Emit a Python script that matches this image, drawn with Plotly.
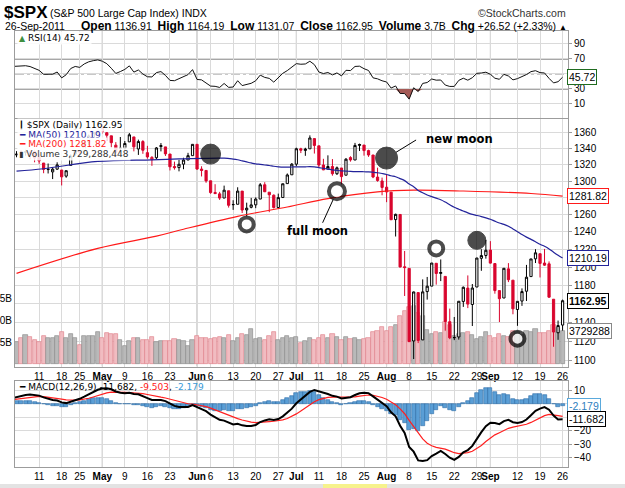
import numpy as np
import pandas as pd
import plotly.graph_objects as go

# ---------------- data ----------------
holidays = ['2011-04-22', '2011-05-30', '2011-07-04', '2011-09-05']
dates = [d.strftime('%Y-%m-%d') for d in pd.bdate_range('2011-04-01', '2011-09-26')]
dates = [d for d in dates if d not in holidays]

opens = [1329.5, 1332.0, 1332.0, 1335.9, 1334.8, 1336.2, 1329.0, 1321.96, 1314.0, 1311.1, 1314.5, 1313.4, 1306.0, 1319.1, 1333.2, 1337.1, 1336.8, 1348.4, 1353.9, 1360.1,
         1365.2, 1359.8, 1355.9, 1344.2, 1340.2, 1340.2, 1348.3, 1354.5, 1339.4, 1348.7, 1334.8, 1326.1, 1328.5, 1342.4, 1342.0, 1333.1, 1317.7, 1316.4, 1320.6, 1325.7, 1331.1,
         1345.2, 1314.6, 1312.9, 1300.3, 1286.3, 1284.6, 1279.6, 1288.3, 1272.0, 1272.2, 1287.9, 1265.5, 1268.6, 1271.5, 1278.4, 1295.5, 1286.6, 1283.0, 1268.4, 1280.2, 1296.9, 1307.6,
         1320.6, 1339.6, 1337.6, 1339.6, 1352.4, 1343.3, 1319.6, 1314.5, 1317.7, 1308.9, 1315.9, 1307.1, 1328.7, 1325.7, 1343.8, 1344.3, 1337.4, 1331.9, 1304.8, 1300.1,
         1292.6, 1286.6, 1254.2, 1260.2, 1200.3, 1198.5, 1120.2, 1171.8, 1121.3, 1172.9, 1178.9, 1204.2, 1192.9, 1189.6, 1140.5, 1123.6, 1124.4, 1162.2, 1176.7, 1158.9, 1177.9, 1209.8, 1213.0,
         1219.1, 1203.9, 1173.97, 1165.9, 1197.98, 1185.4, 1153.5, 1162.6, 1173.3, 1189.4, 1209.2, 1214.99, 1204.5, 1203.6, 1164.6, 1128.8, 1136.91]
highs = [1337.9, 1336.7, 1338.2, 1339.5, 1338.8, 1339.5, 1333.2, 1321.96, 1321.4, 1316.8, 1322.9, 1313.4, 1312.7, 1332.7, 1337.5, 1337.6, 1349.6, 1357.5, 1361.7, 1364.6,
         1370.6, 1360.8, 1355.9, 1348.0, 1354.4, 1349.4, 1359.4, 1354.5, 1351.1, 1350.5, 1343.3, 1330.4, 1341.8, 1346.8, 1342.0, 1333.1, 1323.7, 1325.9, 1328.5, 1334.6, 1345.2,
         1345.2, 1318.0, 1312.9, 1300.3, 1296.2, 1287.0, 1294.5, 1288.3, 1277.0, 1292.5, 1287.9, 1274.1, 1279.8, 1280.4, 1297.6, 1298.6, 1286.6, 1283.9, 1284.9, 1296.8, 1309.2, 1321.97,
         1341.0, 1340.9, 1340.9, 1356.5, 1352.4, 1343.3, 1327.2, 1331.5, 1326.9, 1317.7, 1315.9, 1328.1, 1330.4, 1347.0, 1346.1, 1344.3, 1338.5, 1331.9, 1316.3, 1304.2,
         1307.4, 1286.6, 1261.2, 1260.2, 1218.1, 1198.5, 1172.9, 1171.8, 1186.3, 1189.0, 1204.5, 1204.2, 1208.5, 1189.6, 1154.5, 1145.5, 1162.4, 1178.5, 1190.7, 1181.2, 1210.3, 1220.1, 1230.7,
         1229.3, 1203.9, 1173.97, 1198.6, 1204.4, 1185.4, 1162.5, 1176.4, 1202.4, 1209.1, 1220.1, 1214.99, 1220.4, 1206.3, 1164.6, 1141.7, 1164.19]
lows = [1328.9, 1329.1, 1330.0, 1331.1, 1326.6, 1322.9, 1321.1, 1309.5, 1309.2, 1302.4, 1313.7, 1294.7, 1304.0, 1319.1, 1331.0, 1332.9, 1336.8, 1344.3, 1353.6, 1358.7,
        1358.6, 1349.5, 1341.5, 1329.2, 1335.6, 1338.6, 1348.3, 1336.4, 1332.0, 1333.4, 1327.3, 1318.5, 1326.6, 1336.4, 1330.7, 1312.9, 1313.9, 1311.8, 1314.4, 1325.7, 1331.1,
        1313.7, 1305.6, 1297.9, 1284.7, 1284.7, 1277.4, 1279.6, 1268.3, 1265.6, 1272.2, 1261.9, 1258.1, 1267.4, 1267.6, 1278.4, 1286.8, 1262.9, 1267.2, 1267.5, 1280.2, 1296.9, 1307.6,
        1318.2, 1334.3, 1330.9, 1339.6, 1333.7, 1316.4, 1313.3, 1314.5, 1306.5, 1307.4, 1295.9, 1307.1, 1323.7, 1325.7, 1336.9, 1331.1, 1329.6, 1303.5, 1299.2, 1282.9,
        1274.7, 1254.0, 1234.6, 1199.5, 1168.1, 1119.3, 1101.5, 1118.0, 1121.3, 1164.2, 1178.9, 1180.5, 1184.4, 1131.0, 1122.1, 1121.1, 1121.6, 1156.3, 1155.0, 1135.9, 1177.9, 1195.8, 1209.4,
        1203.9, 1170.6, 1140.1, 1165.9, 1183.3, 1148.4, 1136.1, 1157.4, 1162.7, 1189.4, 1204.5, 1188.4, 1201.3, 1166.2, 1114.2, 1121.4, 1131.07]
closes = [1332.4, 1332.9, 1332.6, 1335.5, 1333.5, 1328.2, 1324.5, 1314.2, 1314.4, 1314.5, 1319.7, 1305.1, 1312.6, 1330.4, 1337.4, 1335.3, 1347.2, 1355.7, 1360.5, 1363.6,
          1361.2, 1356.6, 1347.3, 1335.1, 1340.2, 1346.3, 1357.2, 1342.1, 1348.7, 1337.8, 1329.5, 1329.0, 1340.7, 1343.6, 1333.3, 1317.4, 1316.3, 1320.5, 1325.7, 1331.1, 1345.2,
          1314.6, 1312.9, 1300.2, 1286.1, 1284.9, 1279.6, 1289.0, 1271.0, 1271.8, 1287.9, 1265.4, 1267.6, 1271.5, 1278.4, 1295.5, 1287.1, 1283.5, 1268.4, 1280.1, 1296.7, 1307.4, 1320.6,
          1339.7, 1337.9, 1339.2, 1353.2, 1343.8, 1319.5, 1313.6, 1317.7, 1308.9, 1316.1, 1305.4, 1326.7, 1325.8, 1343.8, 1345.0, 1337.4, 1331.9, 1304.9, 1300.7, 1292.3,
          1286.9, 1254.0, 1260.3, 1200.1, 1199.4, 1119.5, 1172.5, 1120.8, 1172.6, 1178.8, 1204.5, 1192.8, 1193.9, 1140.7, 1123.5, 1123.8, 1162.4, 1177.6, 1159.3, 1176.8, 1210.1, 1212.9, 1218.9,
          1204.4, 1174.0, 1165.2, 1198.6, 1185.9, 1154.2, 1162.3, 1172.9, 1188.7, 1209.1, 1216.0, 1204.1, 1202.1, 1166.8, 1129.6, 1136.4, 1162.95]
volume_bn = [3.0, 2.5, 3.0, 3.3, 3.1, 2.7, 2.5, 3.2, 2.9, 3.0, 3.2, 3.6, 3.0, 3.4, 2.9, 2.2, 3.2, 3.2, 3.2, 3.6,
             2.9, 3.5, 3.4, 3.4, 2.7, 2.1, 2.6, 3.0, 2.9, 2.7, 2.7, 3.1, 2.5, 2.6, 2.6, 2.6, 2.8, 2.7, 2.6, 2.0, 2.7,
             3.2, 3.0, 2.9, 2.8, 3.0, 3.1, 3.0, 3.3, 2.6, 2.9, 3.4, 3.3, 4.0, 2.8, 2.9, 2.7, 3.2, 3.6, 2.7, 2.9, 3.2, 3.0,
             3.1, 2.4, 2.6, 2.9, 2.7, 2.9, 3.3, 3.0, 3.4, 3.1, 2.7, 3.1, 2.8, 3.0, 2.7, 2.8, 3.0, 3.6, 3.8, 4.2,
             3.8, 4.2, 4.4, 5.5, 6.0, 6.5, 6.6, 5.8, 5.4, 3.9, 3.4, 3.6, 3.5, 4.8, 4.4, 3.2, 3.4, 3.5, 3.6, 3.3, 2.8, 3.1, 3.6,
             3.2, 2.9, 3.4, 3.2, 3.1, 3.8, 3.6, 3.3, 3.8, 3.6, 4.0, 3.5, 3.5, 3.8, 4.4, 4.1, 3.73]

# 50-day average before enough history exists
ma50_early_dates = ['2011-04-04', '2011-04-12', '2011-04-29', '2011-05-17', '2011-05-25', '2011-06-09']
ma50_early = [1312, 1315, 1324, 1326, 1327, 1328]
# 200-day average
ma200_dates = ['2011-04-04', '2011-04-29', '2011-05-18', '2011-05-26', '2011-06-14', '2011-06-29',
               '2011-07-13', '2011-07-28', '2011-08-09', '2011-08-24', '2011-09-15', '2011-09-26']
ma200 = [1193, 1221, 1235, 1243, 1258, 1269, 1279, 1287, 1289, 1288, 1285, 1281.82]

rsi_seed_gain, rsi_seed_loss = 6.0, 4.0
ema12_seed, ema26_seed, signal_seed = 1317.0, 1313.0, 2.8

# moon markers
moon_dates = ['2011-06-06', '2011-06-16', '2011-07-15', '2011-08-01', '2011-08-16', '2011-08-29', '2011-09-12']
moon_prices = [1333, 1248.6, 1287.7, 1328.1, 1221, 1230.2, 1122.6]
moon_phase = ['new', 'full', 'full', 'new', 'full', 'new', 'full']
moon_size = [20, 14, 16, 22, 14, 18, 14]

tick_dates = ['2011-04-11', '2011-04-18', '2011-04-25', '2011-05-02', '2011-05-09', '2011-05-16', '2011-05-23',
              '2011-06-01', '2011-06-06', '2011-06-13', '2011-06-20', '2011-06-27', '2011-07-01', '2011-07-11',
              '2011-07-18', '2011-07-25', '2011-08-01', '2011-08-08', '2011-08-15', '2011-08-22', '2011-08-29',
              '2011-09-01', '2011-09-12', '2011-09-19', '2011-09-26']
tick_labels = ['11', '18', '25', 'May', '9', '16', '23', 'Jun', '6', '13', '20', '27', 'Jul', '11', '18', '25',
               'Aug', '8', '15', '22', '29', 'Sep', '12', '19', '26']
month_starts = ['2011-05-02', '2011-06-01', '2011-07-01', '2011-08-01', '2011-09-01']

price_ticks = list(range(1100, 1361, 20))
rsi_ticks = [10, 30, 50, 70, 90]
macd_ticks = [10, 0, -10, -20, -30, -40]
vol_ticks = [2.5, 5.0, 7.5]
vol_tick_text = ['2.5B', '5.0B', '7.5B']

# ---------------- derived ----------------
W, H = 625, 488
L, R = 15, 568
def PX(px): return (px - L) / (R - L)
def PY(py): return 1 - py / H

pos = {d: i for i, d in enumerate(dates)}
x = np.arange(len(dates))
o, h, lo, c = map(np.array, (opens, highs, lows, closes))
prev = np.r_[o[0], c[:-1]]
up = c >= prev

ag, al = rsi_seed_gain, rsi_seed_loss
rsi = []
for i in range(len(c)):
    if i > 0:
        ch = c[i] - c[i - 1]
        ag = (ag * 13 + max(ch, 0)) / 14
        al = (al * 13 + max(-ch, 0)) / 14
    rsi.append(100 - 100 / (1 + ag / al))
rsi = np.array(rsi)

e12, e26, sig = ema12_seed, ema26_seed, signal_seed
macd, signal = [], []
for i in range(len(c)):
    if i > 0:
        e12 += (c[i] - e12) * 2 / 13
        e26 += (c[i] - e26) * 2 / 27
        sig += ((e12 - e26) - sig) * 2 / 10
    macd.append(e12 - e26)
    signal.append(sig)
macd, signal = np.array(macd), np.array(signal)
hist = macd - signal

ma50_calc = pd.Series(c).rolling(50).mean().values
ma50_x = [pos[d] for d in ma50_early_dates] + list(range(49, len(c)))
ma50_y = list(ma50_early) + list(ma50_calc[49:])

XR = [0.66, 123.2]
RED = '#d9062e'
GRID = '#dadada'
AX = '#9c9c9c'

fig = go.Figure()

# ---- RSI panel ----
fig.add_trace(go.Scatter(x=x, y=np.full(len(x), 30.0), mode='lines', line=dict(width=0),
                         xaxis='x', yaxis='y', hoverinfo='skip', showlegend=False))
fig.add_trace(go.Scatter(x=x, y=np.minimum(rsi, 30), mode='lines', line=dict(width=0), fill='tonexty',
                         fillcolor='#a45a56', xaxis='x', yaxis='y', hoverinfo='skip', showlegend=False))
fig.add_trace(go.Scatter(x=x, y=rsi, mode='lines', line=dict(color='#111', width=1),
                         xaxis='x', yaxis='y', showlegend=False))

# ---- volume ----
vcol = np.where(up, '#b9b9b9', '#f1bcc1')
vline = np.where(up, '#8e8e8e', '#e0848d')
fig.add_trace(go.Bar(x=x, y=volume_bn, marker=dict(color=list(vcol), line=dict(color=list(vline), width=0.7)),
                     width=0.92, xaxis='x2', yaxis='y2', showlegend=False))

# ---- candles ----
xu, xd = x[up], x[~up]
fig.add_trace(go.Candlestick(x=xu, open=o[up], high=h[up], low=lo[up], close=c[up],
                             increasing=dict(line=dict(color='#000', width=1), fillcolor='#ffffff'),
                             decreasing=dict(line=dict(color='#000', width=1), fillcolor='#000000'),
                             whiskerwidth=0, xaxis='x2', yaxis='y3', showlegend=False))
fig.add_trace(go.Candlestick(x=xd, open=o[~up], high=h[~up], low=lo[~up], close=c[~up],
                             increasing=dict(line=dict(color=RED, width=1), fillcolor='#ffffff'),
                             decreasing=dict(line=dict(color=RED, width=1), fillcolor=RED),
                             whiskerwidth=0, xaxis='x2', yaxis='y3', showlegend=False))

# ---- moving averages ----
fig.add_trace(go.Scatter(x=[pos[d] for d in ma200_dates], y=ma200, mode='lines', line=dict(color='#ff1a1a', width=1.2),
                         line_shape='spline', xaxis='x2', yaxis='y3', showlegend=False))
fig.add_trace(go.Scatter(x=ma50_x, y=ma50_y, mode='lines', line=dict(color='#23239a', width=1.2),
                         line_shape='spline', xaxis='x2', yaxis='y3', showlegend=False))

# ---- moons ----
mx = [pos[d] for d in moon_dates]
fig.add_trace(go.Scatter(x=mx, y=moon_prices, mode='markers',
                         marker=dict(size=moon_size,
                                     color=['#000' if p == 'new' else '#fff' for p in moon_phase],
                                     line=dict(color='#000', width=[1 if p == 'new' else 4 for p in moon_phase])),
                         xaxis='x2', yaxis='y3', showlegend=False))

# ---- MACD ----
fig.add_trace(go.Bar(x=x, y=hist, width=0.9, marker=dict(color='#5a9ed6', line=dict(color='#2a6aa6', width=0.6)),
                     xaxis='x3', yaxis='y4', showlegend=False))
fig.add_trace(go.Scatter(x=x, y=signal, mode='lines', line=dict(color='#ff2020', width=1.2),
                         xaxis='x3', yaxis='y4', showlegend=False))
fig.add_trace(go.Scatter(x=x, y=macd, mode='lines', line=dict(color='#000', width=2),
                         xaxis='x3', yaxis='y4', showlegend=False))

# ---------------- layout ----------------
tickvals = [pos[d] for d in tick_dates]
ticktext = [f'<b>{t}</b>' if t.isalpha() else t for t in tick_labels]
tfont = dict(family='Liberation Sans, Arial', size=10, color='#000')

xcommon = dict(range=XR, tickvals=tickvals, ticktext=ticktext, showgrid=True, gridcolor=GRID, gridwidth=1,
               zeroline=False, showline=True, mirror=True, linecolor=AX, ticks='', tickfont=tfont,
               tickangle=0, fixedrange=True)
ycommon = dict(showline=True, mirror=True, linecolor=AX, zeroline=False, ticks='outside', ticklen=3,
               tickcolor=AX, tickfont=tfont, gridcolor=GRID, showgrid=True, automargin=False)

dom_rsi = [PY(118), PY(31)]
dom_main = [PY(366.5), PY(119)]
dom_macd = [PY(467), PY(381)]

layout = dict(
    width=W, height=H, autosize=False,
    margin=dict(l=L, r=W - R, t=0, b=0, pad=0),
    paper_bgcolor='white', plot_bgcolor='white',
    font=dict(family='Liberation Sans, Arial', size=10, color='#000'),
    showlegend=False, barmode='overlay', boxmode='overlay', bargap=0,
    xaxis=dict(xcommon, anchor='y', domain=[0, 1], showticklabels=False),
    xaxis2=dict(xcommon, anchor='y2', domain=[0, 1], matches='x', showticklabels=True,
                rangeslider=dict(visible=False)),
    xaxis3=dict(xcommon, anchor='y4', domain=[0, 1], matches='x', showticklabels=True),
    yaxis=dict(ycommon, domain=dom_rsi, range=[-8.7, 107.3], side='right', tickvals=rsi_ticks, anchor='x'),
    yaxis2=dict(ycommon, domain=dom_main, range=[-0.284, 27.84], side='left', tickvals=vol_ticks,
                ticktext=vol_tick_text, showgrid=False, ticks='', anchor='x2'),
    yaxis3=dict(ycommon, overlaying='y2', type='log', range=[np.log10(1093.9), np.log10(1377.3)],
                side='right', tickvals=price_ticks, anchor='x2'),
    yaxis4=dict(ycommon, domain=dom_macd, range=[-46.9, 16.65], side='right', tickvals=macd_ticks, anchor='x3'),
)
fig.update_layout(**layout)

shapes = []
for d in month_starts:
    for xr, yr in (('x', 'y domain'), ('x2', 'y2 domain'), ('x3', 'y4 domain')):
        shapes.append(dict(type='line', xref=xr, yref=yr, x0=pos[d], x1=pos[d], y0=0, y1=1,
                           line=dict(color='#a9a9a9', width=1), layer='below'))
for lvl in (70, 30):
    shapes.append(dict(type='line', xref='x domain', yref='y', x0=0, x1=1, y0=lvl, y1=lvl,
                       line=dict(color='#8a8a8a', width=1.5), layer='below'))
shapes.append(dict(type='line', xref='x domain', yref='y', x0=0, x1=1, y0=50, y1=50,
                   line=dict(color='#8a8a8a', width=1, dash='dashdot'), layer='below'))
# bottom browser strip
shapes.append(dict(type='rect', xref='paper', yref='paper', x0=PX(0), x1=PX(W), y0=PY(H), y1=PY(484),
                   fillcolor='#e3e3e3', line=dict(width=0)))
shapes.append(dict(type='rect', xref='paper', yref='paper', x0=PX(323), x1=PX(387), y0=PY(H), y1=PY(484),
                   fillcolor='#f6f28c', line=dict(width=0)))
fig.update_layout(shapes=shapes)

ann = []
def A(px, py, text, size=10, family='Liberation Sans, Arial', xanchor='left', color='#000', **kw):
    ann.append(dict(xref='paper', yref='paper', x=PX(px), y=PY(py), text=text, showarrow=False,
                    xanchor=xanchor, yanchor='middle', font=dict(family=family, size=size, color=color), **kw))

# header
A(2, 12, '<b>$SPX</b>', size=17)
A(48, 13, '(S&P 500 Large Cap Index) INDX', size=10.5)
A(568, 13, '©StockCharts.com', size=10.5, xanchor='right', color='#333')
A(3, 26, '26-Sep-2011', size=10.5)
A(569, 26, '<span style="font-size:12px"><b>Open</b></span> 1136.91  <span style="font-size:12px"><b>High</b></span> 1164.19  '
           '<span style="font-size:12px"><b>Low</b></span> 1131.07  <span style="font-size:12px"><b>Close</b></span> 1162.95  '
           '<span style="font-size:12px"><b>Volume</b></span> 3.7B  <span style="font-size:12px"><b>Chg</b></span> +26.52 (+2.33%) '
           '<span style="font-size:8px">▲</span>', size=10.5, xanchor='right')

LF = 'DejaVu Sans, Verdana'
A(17, 38, '<span style="color:#3f8f3f;font-size:8px">▲</span> RSI(14) 45.72', size=9, family=LF, bgcolor='rgba(255,255,255,0.85)')
A(17, 124.5, '<span style="font-size:8px">┃</span> $SPX (Daily) 1162.95', size=9, family=LF, bgcolor='rgba(255,255,255,0.85)')
A(17, 134.5, '<span style="color:#23239a"><b>━</b> MA(50) 1210.19</span>', size=9, family=LF, bgcolor='rgba(255,255,255,0.85)')
A(17, 144, '<span style="color:#ff1a1a"><b>━</b> MA(200) 1281.82</span>', size=9, family=LF, bgcolor='rgba(255,255,255,0.85)')
A(17, 153.5, '<span style="font-size:8px">▮</span> Volume 3,729,288,448', size=9, family=LF, color='#333', bgcolor='rgba(255,255,255,0.85)')
A(17, 386.5, '<b>━</b> MACD(12,26,9) -11.682, <span style="color:#ff2020">-9.503</span>, <span style="color:#3a9ad8">-2.179</span>',
  size=9, family=LF)

# value boxes on the right axis
def box(yref, yv, text, border, color='#000', bold=False):
    ann.append(dict(xref='paper', yref=yref, x=PX(567), y=yv, text=f'<b>{text}</b>' if bold else text,
                    showarrow=False, xanchor='left', yanchor='middle', bgcolor='white', bordercolor=border,
                    borderwidth=1, borderpad=1, font=dict(family='Liberation Sans, Arial', size=10.5, color=color)))

box('y', 45.72, '45.72', '#1f6b1f')
box('y3', np.log10(1281.82), '1281.82', '#ff1a1a')
box('y3', np.log10(1210.19), '1210.19', '#23239a')
box('y3', np.log10(1162.95), '1162.95', '#000', bold=True)
box('y2', 3.729288, '3729288', '#888')
box('y4', -9.503, '-9.503', '#ff2020', color='#ff2020')
box('y4', -2.179, '-2.179', '#5aa9dc', color='#2f7fc0')
box('y4', -11.682, '-11.682', '#000')

# moon labels
i_new = moon_dates.index('2011-08-01')
i_full = moon_dates.index('2011-07-15')
ann.append(dict(xref='x2', yref='y3', x=pos[moon_dates[i_new]], y=np.log10(moon_prices[i_new]), text='',
                showarrow=True, arrowhead=0, arrowwidth=1, arrowcolor='#000', ax=31, ay=-19, standoff=11))
ann.append(dict(xref='x2', yref='y3', x=pos[moon_dates[i_new]], y=np.log10(moon_prices[i_new]), text='<b>new moon</b>',
                showarrow=False, xshift=73, yshift=19, font=dict(family=LF, size=11.5, color='#000')))
ann.append(dict(xref='x2', yref='y3', x=pos[moon_dates[i_full]], y=np.log10(moon_prices[i_full]), text='',
                showarrow=True, arrowhead=0, arrowwidth=1, arrowcolor='#000', ax=-15, ay=33, standoff=9))
ann.append(dict(xref='x2', yref='y3', x=pos[moon_dates[i_full]], y=np.log10(moon_prices[i_full]), text='<b>full moon</b>',
                showarrow=False, xshift=-19, yshift=-40, font=dict(family=LF, size=11.5, color='#000')))

fig.update_layout(annotations=ann)
fig.write_html('out.html')
